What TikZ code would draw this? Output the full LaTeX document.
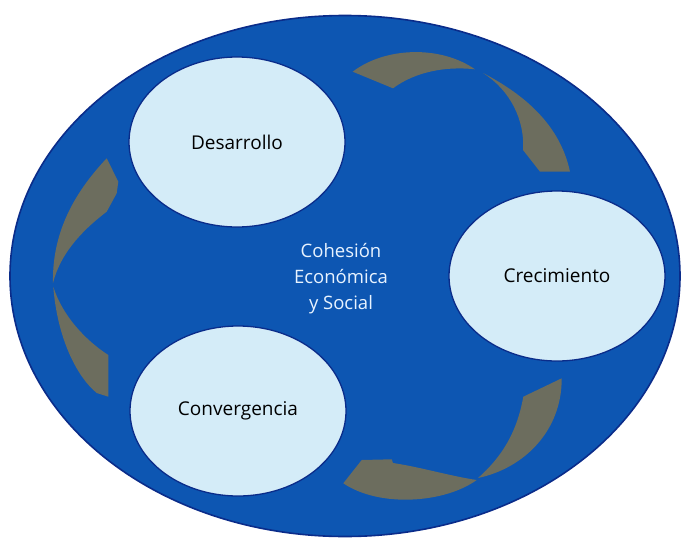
\documentclass[tikz,border=0pt]{standalone}
\usepackage{fontspec}
\setmainfont{Open Sans}
\usetikzlibrary{shapes.geometric}
\definecolor{ringblue}{HTML}{0D56B2}
\definecolor{ringedge}{HTML}{0A2C8A}
\definecolor{stagefill}{HTML}{D4ECF8}
\definecolor{cyclegray}{HTML}{6C6D5E}
\definecolor{coretext}{HTML}{E8F3FF}
\begin{document}
\begin{tikzpicture}[x=1pt,y=-1pt,
  ring/.style={ellipse, fill=ringblue, draw=ringedge, line width=1.6pt, inner sep=0pt},
  stage/.style={ellipse, fill=stagefill, draw=ringedge, line width=1.3pt, inner sep=0pt,
                minimum width=216pt, minimum height=170pt, font=\fontsize{19}{23}\selectfont},
  core/.style={align=center, text=coretext, font=\fontsize{18.5}{26}\selectfont},
  cycle/.style={fill=cyclegray}]
\fill[white] (0,0) rectangle (682,538);
\useasboundingbox (0,0) rectangle (682,538);

% outer field
\node[ring, minimum width=670pt, minimum height=521pt] (field) at (345,276) {};

% the three stages and the central idea
\node[stage] (des) at (237,142) {Desarrollo};
\node[stage] (cre) at (557,276) {Crecimiento};
\node[stage] (con) at (238,411) {Convergencia};
\node[core] (coh) at (341,279) {Cohesión\\Económica\\y Social};

% cycle arrow: Desarrollo -> Crecimiento
\fill[cycle] (352.7,71.7) .. controls (385,47) and (440,45) .. (475,69.3)
  .. controls (445,66) and (415,72) .. (393,88.3) -- cycle;
\fill[cycle] (483,73) .. controls (525,95) and (560,125) .. (570,171.7)
  -- (540,171.7) -- (523,150) .. controls (525,120) and (510,90) .. (483,73) -- cycle;

% cycle arrow: Crecimiento -> Convergencia
\fill[cycle] (561.7,378.3) -- (523.3,396.7) .. controls (519,420) and (510,450) .. (478,478)
  .. controls (525,468) and (562,430) .. (561.7,378.3) -- cycle;
\fill[cycle] (343.3,483.3) -- (361.7,460) -- (391.7,459.3) -- (393,463)
  .. controls (420,467) and (450,476) .. (476.7,480)
  .. controls (445,503) and (380,508) .. (343.3,483.3) -- cycle;

% cycle arrow: Convergencia -> Desarrollo
\fill[cycle] (106.7,158.3) -- (118.3,181.7) -- (116.7,193.3) -- (106.7,211.7)
  .. controls (80,232) and (60,255) .. (53,283)
  .. controls (52,235) and (72,195) .. (106.7,158.3) -- cycle;
\fill[cycle] (53.3,286.7) .. controls (62,315) and (85,340) .. (108.3,355)
  -- (108.3,396.7) -- (96.7,393)
  .. controls (75,375) and (57,335) .. (53.3,286.7) -- cycle;
\end{tikzpicture}
\end{document}
